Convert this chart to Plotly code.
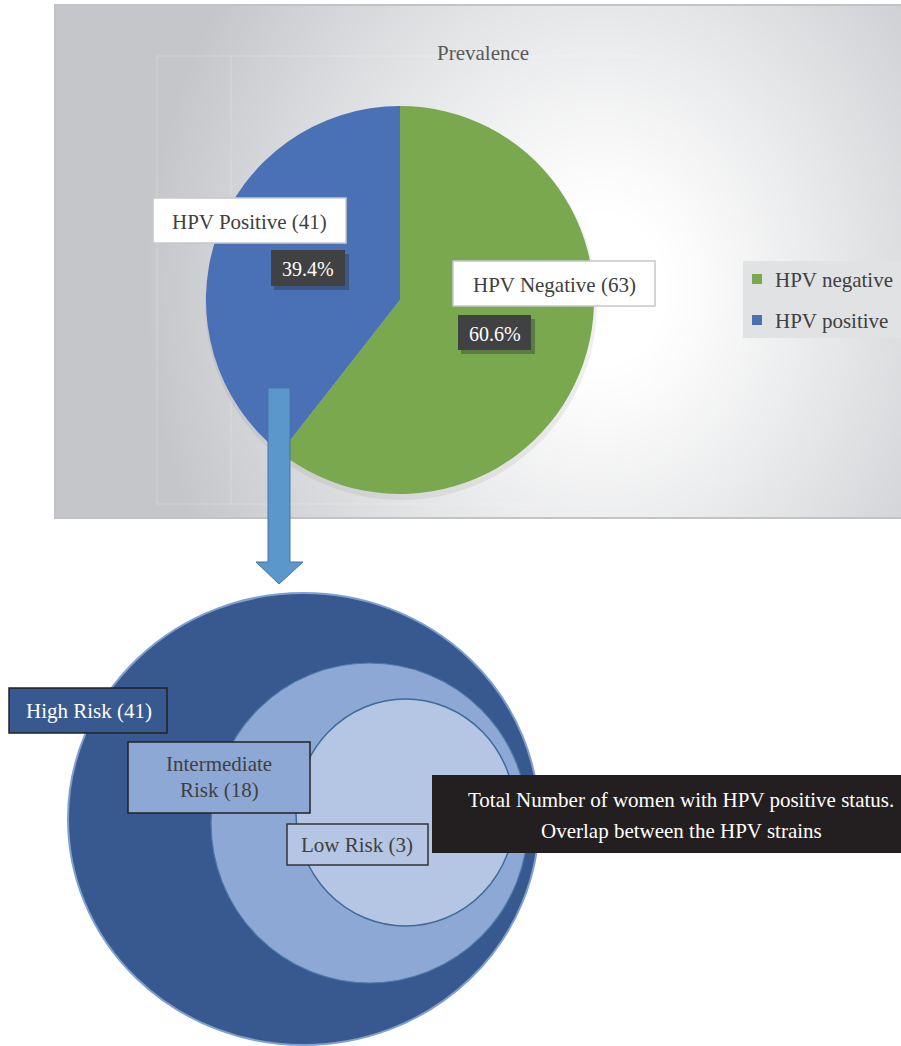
import base64, struct, zlib
import numpy as np
import plotly.graph_objects as go

# ---------------- data ----------------
chart_title = "Prevalence"
pie_labels = ["HPV negative", "HPV positive"]
pie_values = [63, 41]
pie_colors = ["#79a84e", "#4a70b6"]
callout_names = ["HPV Negative", "HPV Positive"]

risk_labels = ["High Risk", "Intermediate Risk", "Low Risk"]
risk_counts = [41, 18, 3]
note_lines = ["Total Number of women with HPV positive status.",
              "Overlap between the HPV strains"]

W, H = 901, 1046
FONT = "Liberation Serif"
TXT = "#404040"


def px(x):
    return x / W


def py(y):
    return 1 - y / H


# ---------------- gradient panel image ----------------
def gradient_png(w, h):
    xs = np.linspace(55, 901, w)
    ys = np.linspace(5, 518, h)
    X, Y = np.meshgrid(xs, ys)
    d = np.sqrt(((X - 600) / 460) ** 2 + ((Y - 290) / 540) ** 2)
    t = np.clip((d - 0.15) / 0.85, 0, 1) ** 1.1
    white = np.array([255, 255, 255])
    gray = np.array([196, 198, 202])
    img = (white[None, None, :] * (1 - t[..., None]) + gray[None, None, :] * t[..., None]).astype(np.uint8)
    raw = b"".join(b"\x00" + img[r].tobytes() for r in range(h))

    def chunk(tag, data):
        c = struct.pack(">I", len(data)) + tag + data
        return c + struct.pack(">I", zlib.crc32(tag + data) & 0xffffffff)

    png = b"\x89PNG\r\n\x1a\n"
    png += chunk(b"IHDR", struct.pack(">IIBBBBB", w, h, 8, 2, 0, 0, 0))
    png += chunk(b"IDAT", zlib.compress(raw, 9))
    png += chunk(b"IEND", b"")
    return "data:image/png;base64," + base64.b64encode(png).decode()


fig = go.Figure()

total = sum(pie_values)
fig.add_trace(go.Pie(
    labels=pie_labels, values=pie_values, sort=False, direction="clockwise",
    rotation=0, marker=dict(colors=pie_colors, line=dict(width=0)),
    textinfo="none", hoverinfo="label+value+percent", showlegend=False,
    domain=dict(x=[px(206), px(594)], y=[py(494), py(106)]),
))

shapes = []
annotations = []
images = [dict(source=gradient_png(300, 180), xref="paper", yref="paper",
               x=px(55), y=py(5), sizex=px(901) - px(55), sizey=py(5) - py(518),
               sizing="stretch", xanchor="left", yanchor="top", layer="below")]


def rect(x0, y0, x1, y1, fill, line=None, lw=1, layer="above", opacity=1):
    shapes.append(dict(type="rect", xref="paper", yref="paper",
                       x0=px(x0), x1=px(x1), y0=py(y1), y1=py(y0),
                       fillcolor=fill, opacity=opacity, layer=layer,
                       line=dict(color=line if line else fill, width=lw if line else 0)))


def text(x, y, s, size=18, color=TXT):
    annotations.append(dict(xref="paper", yref="paper", x=px(x), y=py(y), text=s,
                            showarrow=False, xanchor="center", yanchor="middle",
                            font=dict(family=FONT, size=size, color=color)))


# panel border
shapes.append(dict(type="rect", xref="paper", yref="paper", x0=px(55), x1=px(903),
                   y0=py(518), y1=py(5), line=dict(color="#c2c3c6", width=2),
                   fillcolor="rgba(0,0,0,0)", layer="below"))
# faint inner guide lines
guide = "rgba(255,255,255,0.22)"
for gx in [157, 231]:
    shapes.append(dict(type="line", xref="paper", yref="paper", x0=px(gx), x1=px(gx),
                       y0=py(504), y1=py(56), line=dict(color=guide, width=1), layer="below"))
for gy in [56, 504]:
    shapes.append(dict(type="line", xref="paper", yref="paper", x0=px(157), x1=px(640),
                       y0=py(gy), y1=py(gy), line=dict(color=guide, width=1), layer="below"))
# pie soft shadow
shapes.append(dict(type="circle", xref="paper", yref="paper", x0=px(205), x1=px(597),
                   y0=py(500), y1=py(108), fillcolor="rgba(120,120,125,0.12)",
                   line=dict(width=0), layer="below"))

text(483, 53, chart_title, size=21, color="#595959")

pct = [v / total * 100 for v in pie_values]
boxes = {
    0: dict(lbl=(453, 261, 655, 306), pc=(458, 315, 531, 350)),
    1: dict(lbl=(153, 198, 346, 243), pc=(271, 250, 345, 286)),
}
for i, b in boxes.items():
    x0, y0, x1, y1 = b["lbl"]
    rect(x0, y0, x1, y1, "#ffffff", line="#c8c8c8", lw=1.5)
    text((x0 + x1) / 2, (y0 + y1) / 2 + 1, f"{callout_names[i]} ({pie_values[i]})", size=21)
    x0, y0, x1, y1 = b["pc"]
    rect(x0 + 3, y0 + 4, x1 + 4, y1 + 4, "rgba(40,40,50,0.35)")
    rect(x0, y0, x1, y1, "#404143")
    text((x0 + x1) / 2, (y0 + y1) / 2 + 1, f"{pct[i]:.1f}%", size=20, color="#ffffff")

# legend
rect(743, 261, 903, 338, "#e1e2e4", layer="below")
for i, yy in enumerate([279, 320]):
    rect(752, yy - 5, 762, yy + 5, pie_colors[i])
    annotations.append(dict(xref="paper", yref="paper", x=px(773), y=py(yy + 1), text=pie_labels[i],
                            showarrow=False, xanchor="left", yanchor="middle",
                            font=dict(family=FONT, size=21, color=TXT)))


# arrow
def P(x, y):
    return f"{px(x):.5f},{py(y):.5f}"


arrow_path = ("M " + P(268, 388) + " L " + P(290, 388) + " L " + P(290, 562) + " L " + P(303, 562)
              + " L " + P(279, 584) + " L " + P(256, 562) + " L " + P(268, 562) + " Z")
shapes.append(dict(type="path", xref="paper", yref="paper", path=arrow_path,
                   fillcolor="#5b97cb", line=dict(color="#4677a6", width=1), layer="above"))

# nested circles
circles = [
    ((68, 593, 539, 1045), "#38598f", "#7f9fd3", 2),
    ((211, 663, 528, 983), "#8ea8d6", "#4d79a8", 1.2),
    ((296, 699, 515, 926), "#b4c6e4", "#3e6b98", 1.5),
]
for (x0, y0, x1, y1), fill, edge, lw in circles:
    shapes.append(dict(type="circle", xref="paper", yref="paper", x0=px(x0), x1=px(x1),
                       y0=py(y1), y1=py(y0), fillcolor=fill, line=dict(color=edge, width=lw),
                       layer="above"))

# risk label boxes
rect(9, 688, 167, 733, "#38598f", line="#222222", lw=1.5)
text(89, 711, f"{risk_labels[0]} ({risk_counts[0]})", size=21, color="#ffffff")
rect(128, 742, 310, 813, "#8ea8d6", line="#222222", lw=1.5)
w1, w2 = risk_labels[1].split(" ", 1)
text(219, 764, w1, size=21)
text(219, 790, f"{w2} ({risk_counts[1]})", size=21)
rect(287, 824, 428, 865, "#b4c6e4", line="#333333", lw=1.5)
text(357, 845, f"{risk_labels[2]} ({risk_counts[2]})", size=21)

# note box
rect(432, 775, 903, 853, "#231f20")
text(681, 800, note_lines[0], size=21, color="#ffffff")
text(681, 831, note_lines[1], size=21, color="#ffffff")

fig.update_layout(
    width=W, height=H, margin=dict(l=0, r=0, t=0, b=0),
    paper_bgcolor="#ffffff", plot_bgcolor="rgba(0,0,0,0)",
    showlegend=False, shapes=shapes, annotations=annotations, images=images,
    font=dict(family=FONT),
)
fig.write_html("out.html")
